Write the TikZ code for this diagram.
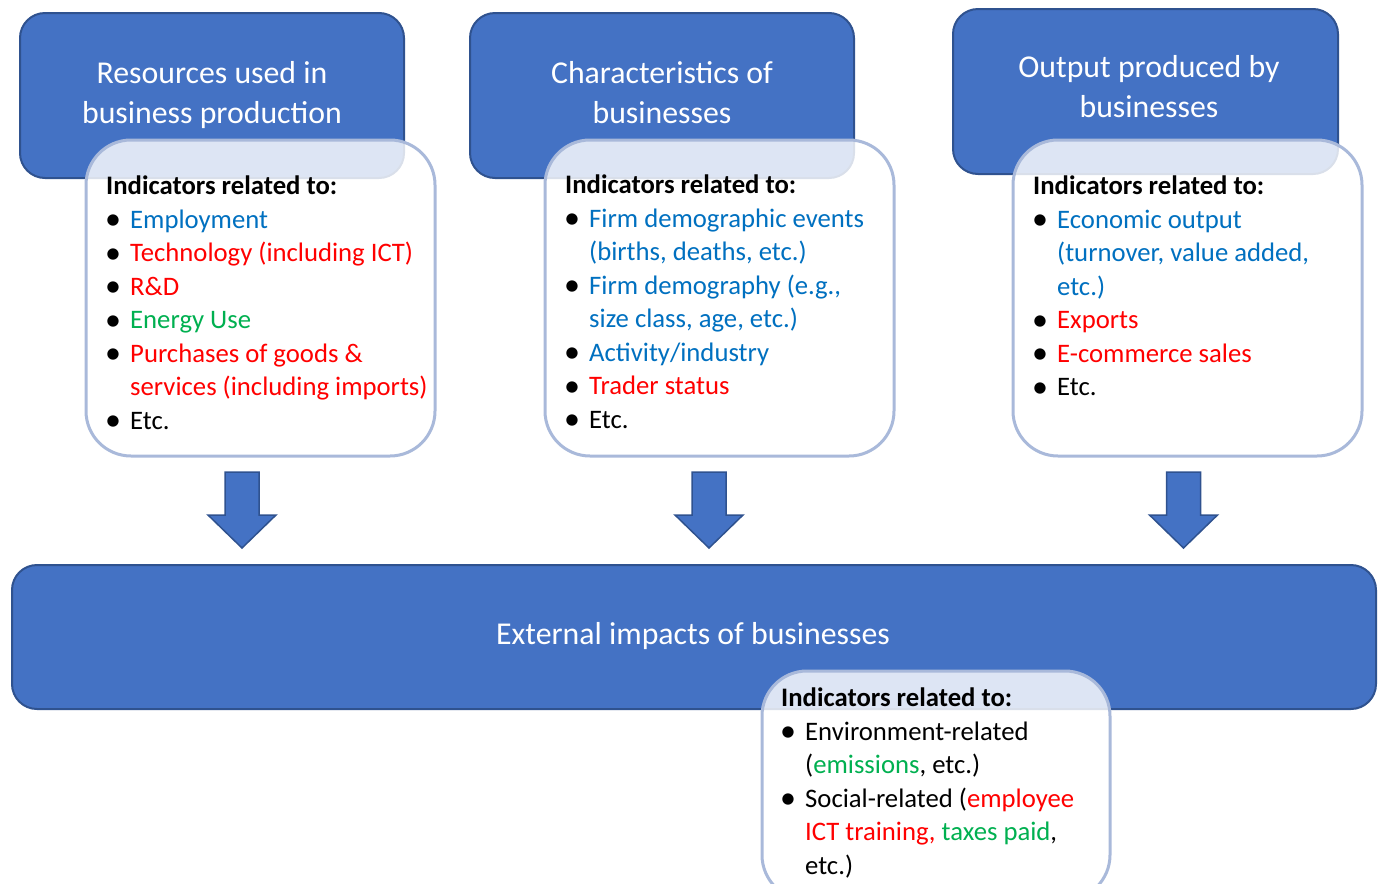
\documentclass[tikz,border=0pt]{standalone}
\usepackage{fontspec}
\setmainfont{Carlito}
\usetikzlibrary{positioning}
\definecolor{boxblue}{HTML}{4472C4}
\definecolor{boxedge}{HTML}{2F528F}
\definecolor{indedge}{HTML}{A9B9DA}
\definecolor{txtblue}{HTML}{0070C0}
\definecolor{txtred}{HTML}{FF0000}
\definecolor{txtgreen}{HTML}{00B050}
\newcommand{\titlefont}{\fontsize{31.8}{40}\selectfont}
\newcommand{\listfont}{\fontsize{26.7}{33.5}\selectfont}
\newcommand{\bul}{\makebox[24pt][l]{\kern-1pt\raisebox{-1.5pt}{\fontsize{32}{32}\selectfont\textbullet}}}
\newcommand{\ind}{\hspace*{24pt}}
\tikzset{
    TopBox/.style = {rounded corners=25pt, draw=boxedge, fill=boxblue, line width=2pt}
}
\tikzset{
    TitleText/.style = {inner sep=0pt, text=white, align=center, font=\titlefont}
}
\tikzset{
    IndBox/.style = {rounded corners=45pt, draw=indedge, line width=3pt, fill=white, fill opacity=0.82, draw opacity=1}
}
\tikzset{
    ListText/.style = {anchor=north west, inner sep=0pt, align=left, font=\listfont}
}
\tikzset{
    BlockArrow/.style = {draw=boxedge, fill=boxblue, line width=1.5pt, line join=miter}
}

\begin{document}
\begin{tikzpicture}[x=1pt, y=-1pt]
\useasboundingbox (0,0) rectangle (1385,884);
\clip (0,0) rectangle (1385,884);

% top boxes
\node[TopBox, minimum width=384, minimum height=165] at (212,95.5) (res) {};
\node[TopBox, minimum width=384, minimum height=165] at (662,95.5) (chr) {};
\node[TopBox, minimum width=385, minimum height=165] at (1145.5,91.5) (out) {};
\node[TitleText] at (212,95) (restitle) {Resources used in\strut\\business production\strut};
\node[TitleText] at (662,95) (chrtitle) {Characteristics of\strut\\businesses\strut};
\node[TitleText] at (1149,89) (outtitle) {Output produced by\strut\\businesses\strut};

% indicator boxes
\node[IndBox, minimum width=349, minimum height=316] at (260.5,298) (resind) {};
\node[IndBox, minimum width=349, minimum height=316] at (719.5,298) (chrind) {};
\node[IndBox, minimum width=349, minimum height=316] at (1187.5,298) (outind) {};

\node[ListText] at (106,176) (restext) {\textbf{Indicators related to:}\\
\bul\textcolor{txtblue}{Employment}\\
\bul\textcolor{txtred}{Technology (including ICT)}\\
\bul\textcolor{txtred}{R\&D}\\
\bul\textcolor{txtgreen}{Energy Use}\\
\bul\textcolor{txtred}{Purchases of goods \&}\\
\ind\textcolor{txtred}{services (including imports)}\\
\bul Etc.};
\node[ListText] at (565,175) (chrtext) {\textbf{Indicators related to:}\\
\bul\textcolor{txtblue}{Firm demographic events}\\
\ind\textcolor{txtblue}{(births, deaths, etc.)}\\
\bul\textcolor{txtblue}{Firm demography (e.g.,}\\
\ind\textcolor{txtblue}{size class, age, etc.)}\\
\bul\textcolor{txtblue}{Activity/industry}\\
\bul\textcolor{txtred}{Trader status}\\
\bul Etc.};
\node[ListText] at (1033,176) (outtext) {\textbf{Indicators related to:}\\
\bul\textcolor{txtblue}{Economic output}\\
\ind\textcolor{txtblue}{(turnover, value added,}\\
\ind\textcolor{txtblue}{etc.)}\\
\bul\textcolor{txtred}{Exports}\\
\bul\textcolor{txtred}{E-commerce sales}\\
\bul Etc.};

% arrows down
\coordinate (a1) at (242,548);
\coordinate (a2) at (709,548);
\coordinate (a3) at (1183.5,548);
\draw[BlockArrow] (a1) -- ++(-34,-33) -- ++(17,0) -- ++(0,-43) -- ++(34,0) -- ++(0,43) -- ++(17,0) -- cycle;
\draw[BlockArrow] (a2) -- ++(-34,-33) -- ++(17,0) -- ++(0,-43) -- ++(34,0) -- ++(0,43) -- ++(17,0) -- cycle;
\draw[BlockArrow] (a3) -- ++(-34,-33) -- ++(17,0) -- ++(0,-43) -- ++(34,0) -- ++(0,43) -- ++(17,0) -- cycle;

% external impacts
\node[TopBox, minimum width=1364, minimum height=144] at (694,637) (ext) {};
\node[TitleText] at (693,636) (exttitle) {External impacts of businesses\strut};
\node[IndBox, minimum width=348, minimum height=229] at (936,785.5) (extind) {};
\node[ListText] at (781,688) (exttext) {\textbf{Indicators related to:}\\
\bul Environment-related\\
\ind(\textcolor{txtgreen}{emissions}, etc.)\\
\bul Social-related (\textcolor{txtred}{employee}\\
\ind\textcolor{txtred}{ICT training,} \textcolor{txtgreen}{taxes paid},\\
\ind etc.)};
\end{tikzpicture}
\end{document}
